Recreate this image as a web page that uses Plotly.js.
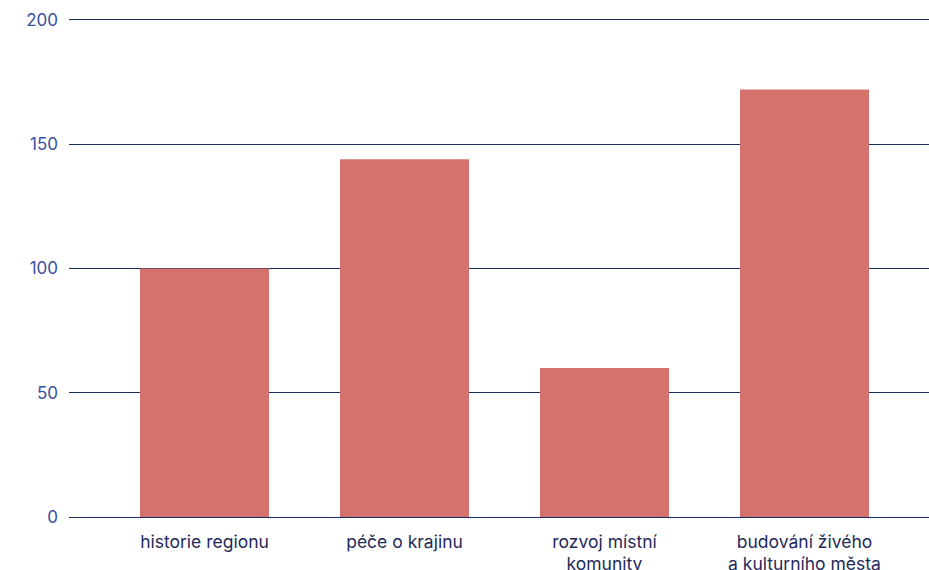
<!DOCTYPE html>
<html><head><meta charset="utf-8">
<script src="https://cdn.plot.ly/plotly-3.0.1.min.js"></script>
<style>html,body{margin:0;padding:0;background:#fff}#c{width:929px;height:570px}</style>
</head><body><div id="c"></div>
<script>
const categories = ["historie regionu", "péče o krajinu", "rozvoj místní<br>komunity", "budování živého<br>a kulturního města"];
const values = [100, 144, 60, 172];
const yTicks = [0, 50, 100, 150, 200];

Plotly.newPlot('c', [{
  type: 'bar',
  x: [0, 1, 2, 3],
  y: values,
  width: 0.645,
  marker: {color: '#d4736d'},
  hoverinfo: 'none'
}], {
  width: 929, height: 570,
  margin: {l: 69, r: 0, t: 18, b: 53},
  paper_bgcolor: '#fff', plot_bgcolor: '#fff',
  showlegend: false,
  font: {family: 'Inter, Lato, sans-serif'},
  xaxis: {
    range: [-0.6775, 3.6225],
    tickvals: [0, 1, 2, 3],
    ticktext: categories,
    showgrid: false, zeroline: false, showline: false,
    ticks: '',
    tickfont: {size: 17.5, color: '#1f2a5a'},
    ticklabelstandoff: 12
  },
  yaxis: {
    range: [0, 200.8],
    tickvals: yTicks,
    showgrid: true, gridcolor: '#1c2b5e', gridwidth: 1,
    zeroline: true, zerolinecolor: '#1c2b5e', zerolinewidth: 1,
    showline: false, ticks: '',
    tickfont: {size: 17, color: '#3b4fa0'},
    ticklabelstandoff: 10
  }
}, {staticPlot: true});
</script></body></html>
